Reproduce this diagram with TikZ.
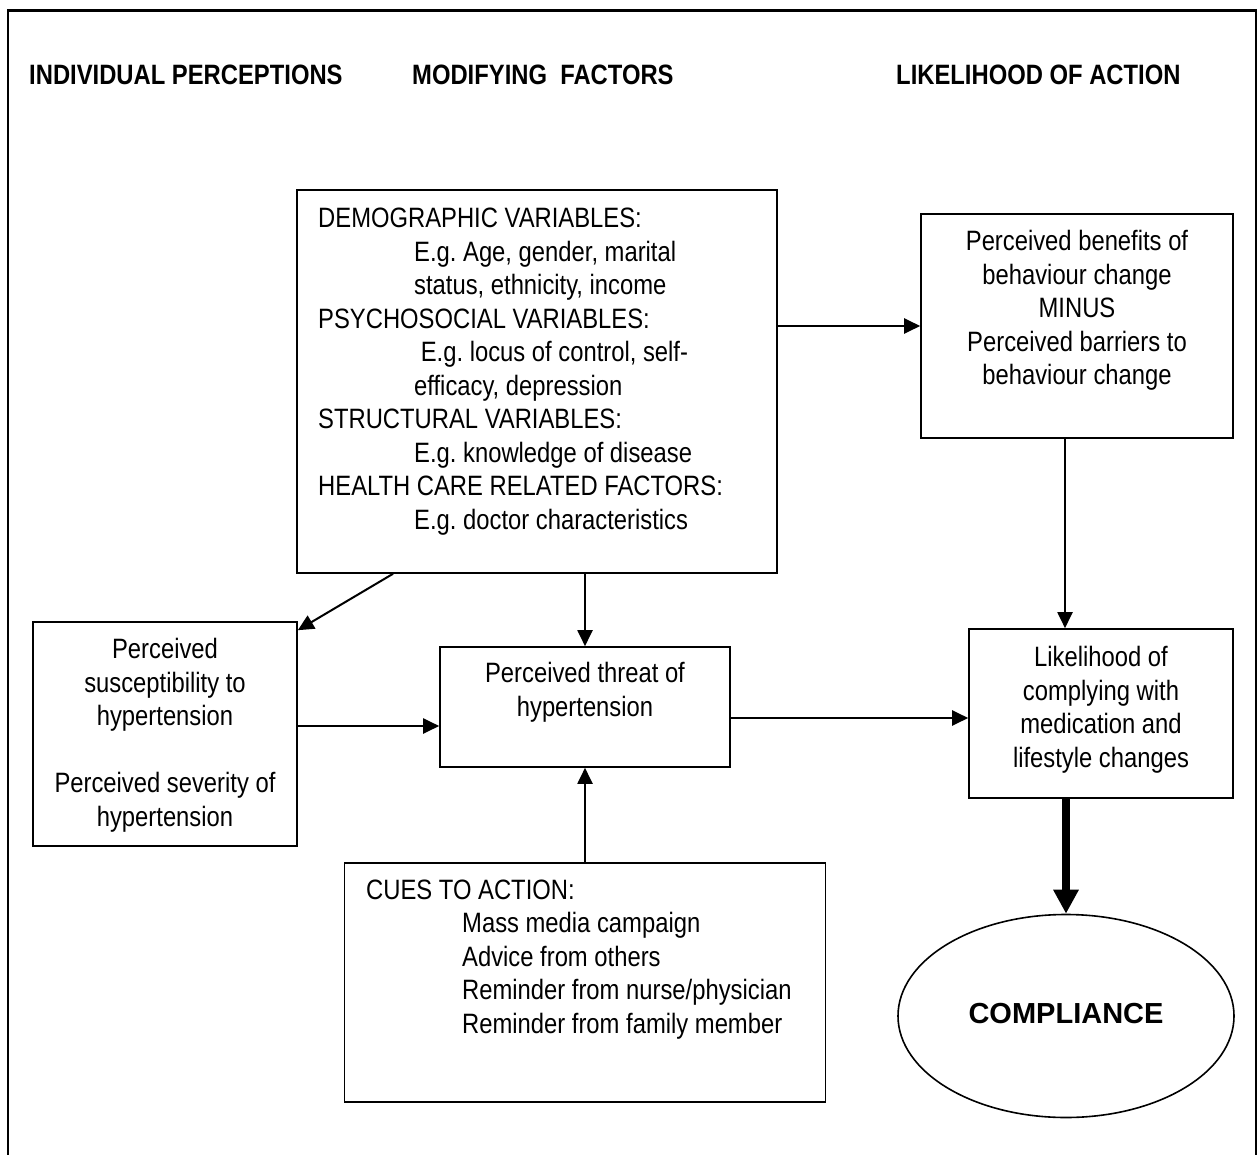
\documentclass[tikz,border=0pt]{standalone}
\usepackage{fontspec}
\setmainfont{Liberation Sans}[FakeStretch=0.85]
\newfontfamily\fullwidth{Liberation Sans}
\usetikzlibrary{arrows.meta,shapes.geometric}
\frenchspacing

\newcommand{\indt}{\hspace*{96pt}}

\tikzset{
  box/.style={draw, line width=1.6pt, inner sep=0pt},
  txt/.style={inner sep=0pt, font=\fontsize{28}{33.5}\selectfont},
  head/.style={inner sep=0pt, anchor=base west, font=\fontsize{28}{33.5}\selectfont\bfseries},
  arr/.style={line width=2pt, -{Triangle[width=15pt,length=16pt]}},
  bigarr/.style={line width=8pt, -{Triangle[width=24pt,length=24pt]}}
}

\begin{document}
\begin{tikzpicture}[x=1pt,y=-1pt]
\useasboundingbox (0,0) rectangle (1260,1155);

% frame, open at the bottom
\draw[line width=2.4pt] (8,1165) -- (8,10.5) -- (1256,10.5) -- (1256,1165);

\node[head] (hind) at (29,85) {INDIVIDUAL PERCEPTIONS};
\node[head] (hmod) at (412,85) {MODIFYING\ \ FACTORS};
\node[head] (hlik) at (896,85) {LIKELIHOOD OF ACTION};

% boxes
\node[box, minimum width=480pt, minimum height=383pt] (demo) at (537,381.5) {};
\node[box, minimum width=312pt, minimum height=224pt] (ben) at (1077,326) {};
\node[box, minimum width=264pt, minimum height=224pt] (susc) at (165,734) {};
\node[box, minimum width=290pt, minimum height=120pt] (thr) at (585,707) {};
\node[box, minimum width=264pt, minimum height=169pt] (lik) at (1101,713.5) {};
\node[box, minimum width=481pt, minimum height=239pt] (cues) at (585,982.5) {};
\node[draw, line width=1.6pt, ellipse, minimum width=336pt, minimum height=203pt,
      inner sep=0pt] (compl) at (1066,1016)
      {\fullwidth\fontsize{29}{33}\selectfont\bfseries\raisebox{5pt}{COMPLIANCE}};

% texts
\node[txt, anchor=north west, align=left] (demotxt) at (318,208) {DEMOGRAPHIC VARIABLES:\\
\indt E.g. Age, gender, marital\\
\indt status, ethnicity, income\\
PSYCHOSOCIAL VARIABLES:\\
\indt\ E.g. locus of control, self-\\
\indt efficacy, depression\\
STRUCTURAL VARIABLES:\\
\indt E.g. knowledge of disease\\
HEALTH CARE RELATED FACTORS:\\
\indt E.g. doctor characteristics};

\node[txt, anchor=north, align=center] (bentxt) at (1077,230.5) {Perceived benefits of\\
behaviour change\\ MINUS\\ Perceived barriers to\\ behaviour change};

\node[txt, anchor=north, align=center] (susctxt) at (165,638.5) {Perceived\\
susceptibility to\\ hypertension\\ \\ Perceived severity of\\ hypertension};

\node[txt, anchor=north, align=center] (thrtxt) at (585,662.5) {Perceived threat of\\ hypertension};

\node[txt, anchor=north, align=center] (liktxt) at (1101,646.5) {Likelihood of\\
complying with\\ medication and\\ lifestyle changes};

\node[txt, anchor=north west, align=left] (cuestxt) at (366,879.5) {CUES TO ACTION:\\
\indt Mass media campaign\\
\indt Advice from others\\
\indt Reminder from nurse/physician\\
\indt Reminder from family member};

% connectors
\draw[arr] (demo.east |- ben.west) -- (ben.west);
\draw[arr] ([xshift=-12pt]ben.south) -- ([xshift=-12pt]ben.south |- lik.north);
\draw[arr] ([xshift=-144pt]demo.south) -- ([yshift=-9pt]susc.north east);
\draw[arr] (demo.south -| thr.north) -- (thr.north);
\draw[arr] (susc.east |- 0,726) -- (thr.west |- 0,726);
\draw[arr] (thr.east |- 0,718) -- (lik.west |- 0,718);
\draw[arr] (cues.north) -- (thr.south);
\draw[bigarr] (lik.south -| compl.north) -- (compl.north);

\end{tikzpicture}
\end{document}
